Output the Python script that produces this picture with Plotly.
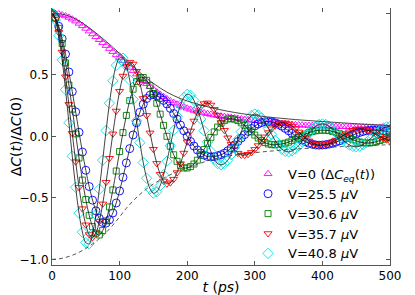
import plotly.graph_objects as go

# ---------------- data ----------------
t_data = list(range(0, 501, 5))     # ps, sample times of the markers
t_env = list(range(0, 501, 10))     # ps, sample times of the envelope curves

v0_eq = [1.000, 0.998, 0.994, 0.987, 0.978, 0.966, 0.952, 0.936, 0.918, 0.898, 0.877,
         0.855, 0.832, 0.809, 0.785, 0.761, 0.737, 0.713, 0.688, 0.664, 0.640,
         0.615, 0.588, 0.560, 0.532, 0.505, 0.478, 0.452, 0.428, 0.404, 0.382,
         0.360, 0.340, 0.321, 0.304, 0.288, 0.274, 0.261, 0.249, 0.238, 0.228,
         0.219, 0.210, 0.203, 0.196, 0.190, 0.184, 0.178, 0.173, 0.168, 0.164,
         0.160, 0.156, 0.152, 0.148, 0.144, 0.141, 0.137, 0.134, 0.131, 0.128,
         0.125, 0.122, 0.119, 0.116, 0.113, 0.110, 0.107, 0.104, 0.101, 0.098,
         0.096, 0.094, 0.092, 0.091, 0.089, 0.088, 0.087, 0.086, 0.085, 0.084,
         0.083, 0.082, 0.081, 0.080, 0.079, 0.079, 0.078, 0.077, 0.077, 0.076,
         0.075, 0.075, 0.074, 0.073, 0.073, 0.072, 0.072, 0.071, 0.071, 0.070]

v25_5 = [1.000, 0.964, 0.894, 0.793, 0.668, 0.523, 0.364, 0.199, 0.033, -0.128, -0.276,
         -0.408, -0.519, -0.606, -0.667, -0.700, -0.705, -0.679, -0.623, -0.542, -0.444,
         -0.333, -0.216, -0.100, 0.011, 0.110, 0.195, 0.261, 0.307, 0.334, 0.340,
         0.329, 0.313, 0.292, 0.263, 0.227, 0.185, 0.140, 0.092, 0.045, 0.000,
         -0.042, -0.079, -0.111, -0.135, -0.153, -0.164, -0.167, -0.165, -0.158, -0.150,
         -0.137, -0.118, -0.095, -0.070, -0.042, -0.014, 0.014, 0.040, 0.064, 0.084,
         0.100, 0.112, 0.119, 0.121, 0.117, 0.109, 0.097, 0.082, 0.064, 0.045,
         0.025, 0.006, -0.013, -0.030, -0.044, -0.056, -0.064, -0.070, -0.072, -0.071,
         -0.068, -0.063, -0.056, -0.047, -0.037, -0.025, -0.013, -0.001, 0.010, 0.021,
         0.031, 0.039, 0.045, 0.048, 0.050, 0.050, 0.048, 0.045, 0.040, 0.033]

v30_6 = [1.000, 0.962, 0.878, 0.754, 0.597, 0.417, 0.221, 0.020, -0.176, -0.356, -0.514,
         -0.642, -0.734, -0.788, -0.802, -0.766, -0.687, -0.574, -0.436, -0.282, -0.124,
         0.030, 0.170, 0.290, 0.383, 0.446, 0.477, 0.478, 0.455, 0.412, 0.348,
         0.269, 0.180, 0.089, 0.000, -0.081, -0.150, -0.203, -0.239, -0.257, -0.257,
         -0.246, -0.225, -0.194, -0.153, -0.107, -0.058, -0.009, 0.036, 0.075, 0.106,
         0.128, 0.141, 0.144, 0.139, 0.128, 0.110, 0.088, 0.063, 0.036, 0.010,
         -0.014, -0.035, -0.051, -0.062, -0.068, -0.069, -0.065, -0.062, -0.056, -0.047,
         -0.035, -0.022, -0.008, 0.005, 0.018, 0.030, 0.039, 0.045, 0.049, 0.050,
         0.049, 0.046, 0.040, 0.032, 0.022, 0.010, -0.003, -0.015, -0.027, -0.037,
         -0.046, -0.052, -0.055, -0.054, -0.050, -0.043, -0.034, -0.024, -0.012, 0.000]

v35_7 = [1.000, 0.952, 0.844, 0.685, 0.484, 0.259, 0.024, -0.206, -0.415, -0.588, -0.719,
         -0.798, -0.822, -0.786, -0.691, -0.549, -0.373, -0.178, 0.020, 0.206, 0.366,
         0.490, 0.571, 0.603, 0.588, 0.529, 0.432, 0.308, 0.170, 0.028, -0.105,
         -0.220, -0.308, -0.363, -0.386, -0.377, -0.348, -0.295, -0.222, -0.136, -0.045,
         0.044, 0.125, 0.191, 0.239, 0.266, 0.272, 0.255, 0.219, 0.170, 0.111,
         0.049, -0.012, -0.065, -0.108, -0.137, -0.152, -0.153, -0.146, -0.131, -0.106,
         -0.075, -0.040, -0.004, 0.031, 0.062, 0.086, 0.102, 0.110, 0.109, 0.100,
         0.083, 0.061, 0.036, 0.010, -0.015, -0.037, -0.054, -0.065, -0.071, -0.070,
         -0.066, -0.058, -0.046, -0.030, -0.013, 0.005, 0.022, 0.037, 0.049, 0.057,
         0.060, 0.059, 0.053, 0.043, 0.030, 0.015, 0.000, -0.015, -0.028, -0.039]

v40_8 = [1.000, 0.947, 0.817, 0.621, 0.379, 0.110, -0.162, -0.414, -0.625, -0.779, -0.865,
         -0.873, -0.791, -0.637, -0.430, -0.194, 0.047, 0.269, 0.451, 0.577, 0.638,
         0.635, 0.573, 0.457, 0.301, 0.125, -0.052, -0.213, -0.341, -0.426, -0.462,
         -0.451, -0.401, -0.314, -0.202, -0.076, 0.049, 0.163, 0.254, 0.315, 0.341,
         0.333, 0.292, 0.225, 0.140, 0.046, -0.045, -0.124, -0.185, -0.222, -0.232,
         -0.223, -0.195, -0.149, -0.090, -0.026, 0.038, 0.095, 0.140, 0.169, 0.181,
         0.174, 0.149, 0.111, 0.065, 0.015, -0.033, -0.074, -0.104, -0.122, -0.126,
         -0.119, -0.102, -0.075, -0.043, -0.007, 0.027, 0.058, 0.081, 0.096, 0.100,
         0.096, 0.081, 0.060, 0.033, 0.003, -0.026, -0.051, -0.071, -0.082, -0.085,
         -0.080, -0.068, -0.049, -0.026, 0.000, 0.025, 0.048, 0.066, 0.077, 0.080]

env_upper = [1.000, 0.997, 0.986, 0.967, 0.938, 0.902, 0.862, 0.818, 0.772, 0.724, 0.674,
             0.622, 0.569, 0.519, 0.472, 0.430, 0.392, 0.359, 0.331, 0.307, 0.287,
             0.270, 0.254, 0.240, 0.227, 0.215, 0.204, 0.194, 0.185, 0.177, 0.169,
             0.163, 0.157, 0.151, 0.146, 0.141, 0.136, 0.132, 0.128, 0.124, 0.120,
             0.116, 0.113, 0.109, 0.106, 0.102, 0.099, 0.096, 0.093, 0.090, 0.087]

env_lower = [-1.000, -0.996, -0.985, -0.967, -0.943, -0.912, -0.875, -0.832, -0.782, -0.722, -0.655,
             -0.585, -0.525, -0.472, -0.427, -0.388, -0.355, -0.326, -0.300, -0.278, -0.258,
             -0.238, -0.218, -0.199, -0.184, -0.171, -0.161, -0.152, -0.145, -0.139, -0.133,
             -0.127, -0.122, -0.117, -0.112, -0.108, -0.104, -0.100, -0.097, -0.094, -0.091,
             -0.088, -0.086, -0.083, -0.081, -0.078, -0.076, -0.074, -0.072, -0.070, -0.068]

labels = ["V=0 (Δ<i>C</i><sub><i>eq</i></sub>(<i>t</i>))",
          "V=25.5 <i>μ</i>V", "V=30.6 <i>μ</i>V", "V=35.7 <i>μ</i>V", "V=40.8 <i>μ</i>V"]

x_ticks = [0, 100, 200, 300, 400, 500]
y_ticks = [-1.0, -0.5, 0.0, 0.5, 1.0]

for arr in (v0_eq, v25_5, v30_6, v35_7, v40_8):
    assert len(arr) == len(t_data), len(arr)
assert len(env_upper) == len(t_env) and len(env_lower) == len(t_env)

# ---------------- figure ----------------
fig = go.Figure()

series = [
    (v0_eq, "triangle-up-open", "#FF00FF", 7),
    (v25_5, "circle-open", "#0000FF", 8),
    (v30_6, "square-open", "#008000", 6),
    (v35_7, "triangle-down-open", "#FF0000", 7),
    (v40_8, "diamond-open", "#00E0E0", 8),
]

for (vals, sym, col, size), lab in zip(series, labels):
    fig.add_trace(go.Scatter(
        x=t_data, y=vals, mode="markers", name=lab,
        marker=dict(symbol=sym, size=size, color=col, line=dict(width=0.9, color=col)),
    ))

# thin black fit curves through the oscillating data
for vals, _, _, _ in series[1:]:
    fig.add_trace(go.Scatter(
        x=t_data, y=vals, mode="lines", showlegend=False,
        line=dict(color="#111111", width=0.8, shape="spline"),
    ))

fig.add_trace(go.Scatter(x=t_env, y=env_upper, mode="lines", showlegend=False,
                         line=dict(color="#333333", width=0.9, shape="spline")))
fig.add_trace(go.Scatter(x=t_env, y=env_lower, mode="lines", showlegend=False,
                         line=dict(color="#444444", width=0.9, dash="4px,3px", shape="spline")))

axis_common = dict(
    showgrid=False, zeroline=False, showline=True, linecolor="#555555", linewidth=1,
    mirror="ticks", ticks="inside", ticklen=4, tickcolor="#555555", automargin=False,
    tickfont=dict(family="DejaVu Sans", size=12, color="black"),
)

# the page adds an 8px body margin, so the figure is sized to fit the 415x295 window
fig.update_layout(
    width=407, height=287,
    margin=dict(l=44, r=25, t=0, b=30),
    paper_bgcolor="white", plot_bgcolor="white",
    font=dict(family="DejaVu Sans", color="black"),
    xaxis=dict(range=[0, 500], tickvals=x_ticks,
               title=dict(text="<i>t</i> (<i>ps</i>)", font=dict(size=14), standoff=0),
               **axis_common),
    yaxis=dict(range=[-1.046, 1.043], tickvals=y_ticks, tickformat=".1f",
               title=dict(text="Δ<i>C</i>(<i>t</i>)/Δ<i>C</i>(0)", font=dict(size=14), standoff=6),
               **axis_common),
    legend=dict(x=0.58, y=0.413, xanchor="left", yanchor="top",
                bgcolor="rgba(0,0,0,0)", font=dict(size=13, family="DejaVu Sans"),
                tracegroupgap=0, itemwidth=30),
    showlegend=True,
)

fig.write_html("out.html")
